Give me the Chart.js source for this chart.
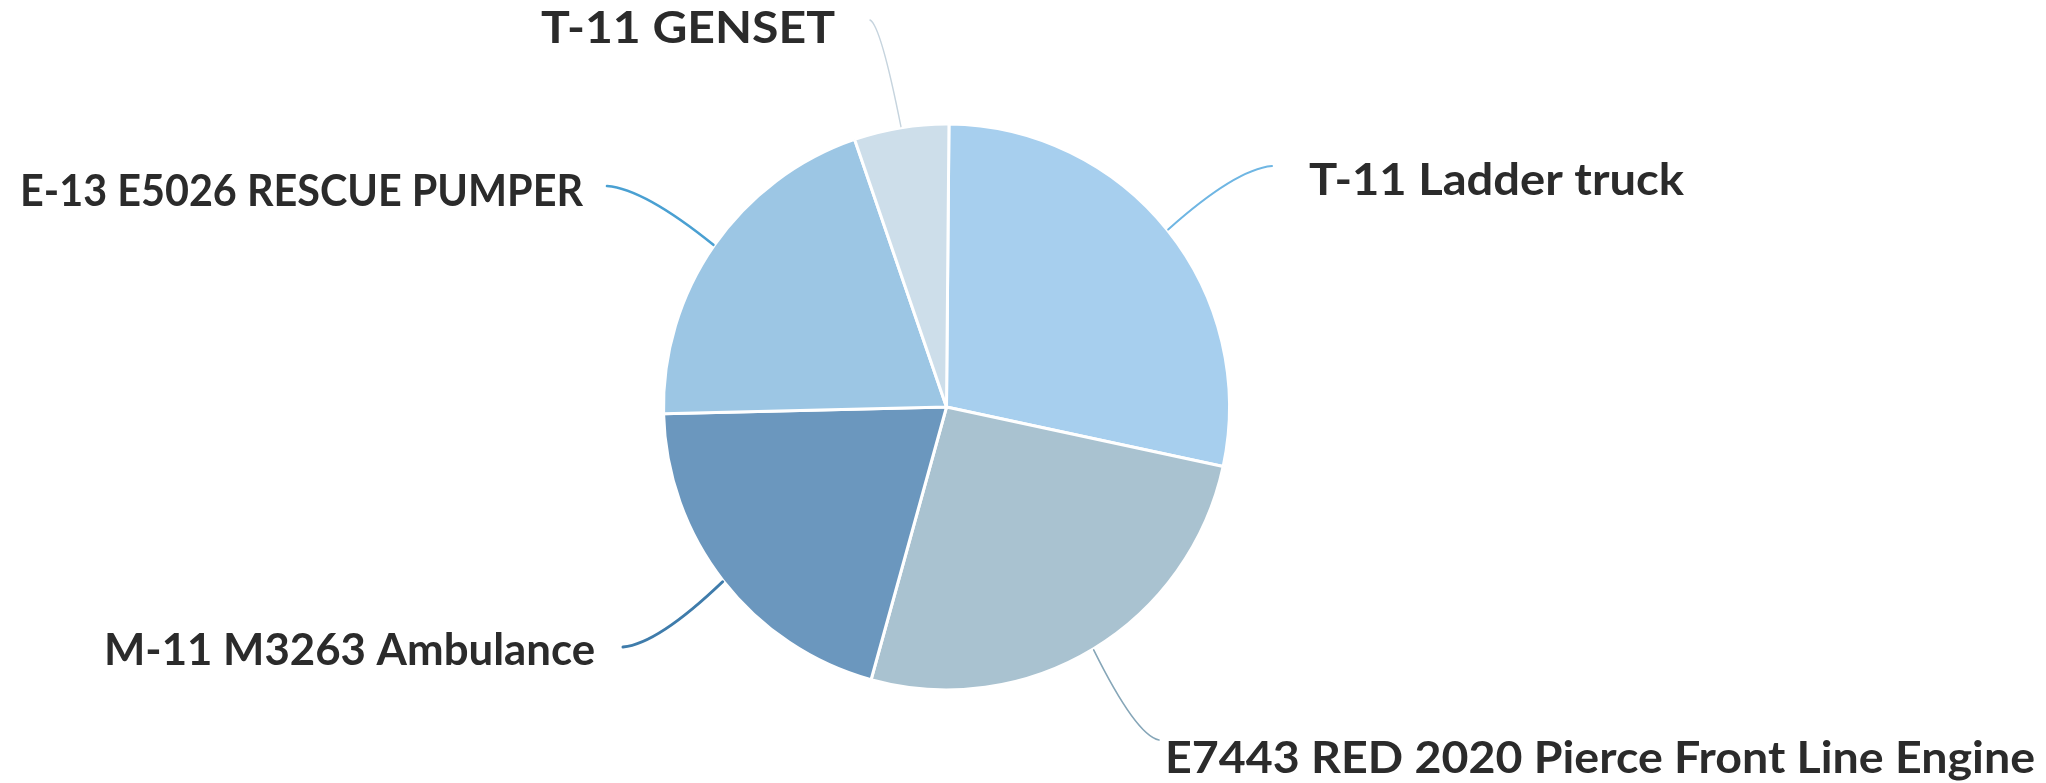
<!DOCTYPE html>
<html>
<head>
<meta charset="utf-8">
<script src="https://cdn.jsdelivr.net/npm/chart.js@4/dist/chart.umd.min.js"></script>
<style>
  html, body { margin: 0; padding: 0; background: #ffffff; }
  #wrap { width: 2046px; height: 783px; }
</style>
</head>
<body>
<div id="wrap"><canvas id="c" width="2046" height="783"></canvas></div>
<script>
// ---- Data ----
const categories = [
  "T-11 Ladder truck",
  "E7443 RED 2020 Pierce Front Line Engine",
  "M-11 M3263 Ambulance",
  "E-13 E5026 RESCUE PUMPER",
  "T-11 GENSET"
];
const values = [28.2, 25.9, 20.3, 20.1, 5.4];

// ---- Styling ----
const sliceColors = ["#a7cfee", "#a9c2d0", "#6b97be", "#9cc6e4", "#cddeea"];
const leaderColors = ["#6fb6e3", "#86a6b8", "#3f7cab", "#4aa0d2", "#c6d4de"];
const leaderWidths = [2, 1.6, 3, 2.6, 1.4];
// label text anchor (x, y centre), alignment, width of the text; leader end point
const labelLayout = [
  { tx: 1309, ty: 181, align: "left",  w: 375, lx: 1272, ly: 166 },
  { tx: 1165, ty: 759, align: "left",  w: 870, lx: 1159, ly: 740 },
  { tx: 595,  ty: 651, align: "right", w: 491, lx: 623,  ly: 647 },
  { tx: 583,  ty: 192, align: "right", w: 563, lx: 607,  ly: 186 },
  { tx: 835,  ty: 29,  align: "right", w: 294, lx: 870,  ly: 20 }
];

const leaderLabels = {
  id: "leaderLabels",
  afterDatasetsDraw(chart) {
    const ctx = chart.ctx;
    const meta = chart.getDatasetMeta(0);
    meta.data.forEach((arc, i) => {
      const p = arc.getProps(["x", "y", "startAngle", "endAngle", "outerRadius"], true);
      const mid = (p.startAngle + p.endAngle) / 2;
      const sx = p.x + Math.cos(mid) * (p.outerRadius + 1);
      const sy = p.y + Math.sin(mid) * (p.outerRadius + 1);
      const L = labelLayout[i];
      const cx = L.lx + (sx - L.lx) * 0.35;
      const cy = L.ly + (sy - L.ly) * 0.05;
      ctx.save();
      ctx.strokeStyle = leaderColors[i];
      ctx.lineWidth = leaderWidths[i];
      ctx.lineCap = "round";
      ctx.beginPath();
      ctx.moveTo(sx, sy);
      ctx.quadraticCurveTo(cx, cy, L.lx, L.ly);
      ctx.stroke();
      ctx.restore();

      ctx.save();
      ctx.fillStyle = "#2b2b2b";
      ctx.font = "bold 44px Lato, 'Open Sans', sans-serif";
      ctx.textBaseline = "middle";
      ctx.textAlign = "left";
      const mw = ctx.measureText(categories[i]).width;
      const k = L.w / mw;
      const x0 = L.align === "left" ? L.tx : L.tx - L.w;
      ctx.translate(x0, L.ty);
      ctx.scale(k, 1);
      ctx.fillText(categories[i], 0, 0);
      ctx.restore();
    });
  }
};

new Chart(document.getElementById("c"), {
  type: "pie",
  data: {
    labels: categories,
    datasets: [{
      data: values,
      backgroundColor: sliceColors,
      borderColor: "#ffffff",
      borderWidth: 3,
      radius: 283
    }]
  },
  options: {
    responsive: false,
    animation: false,
    events: [],
    rotation: 0.5,
    layout: { padding: { top: 124, bottom: 93, left: 500, right: 653 } },
    plugins: {
      legend: { display: false },
      tooltip: { enabled: false }
    }
  },
  plugins: [leaderLabels]
});
</script>
</body>
</html>
